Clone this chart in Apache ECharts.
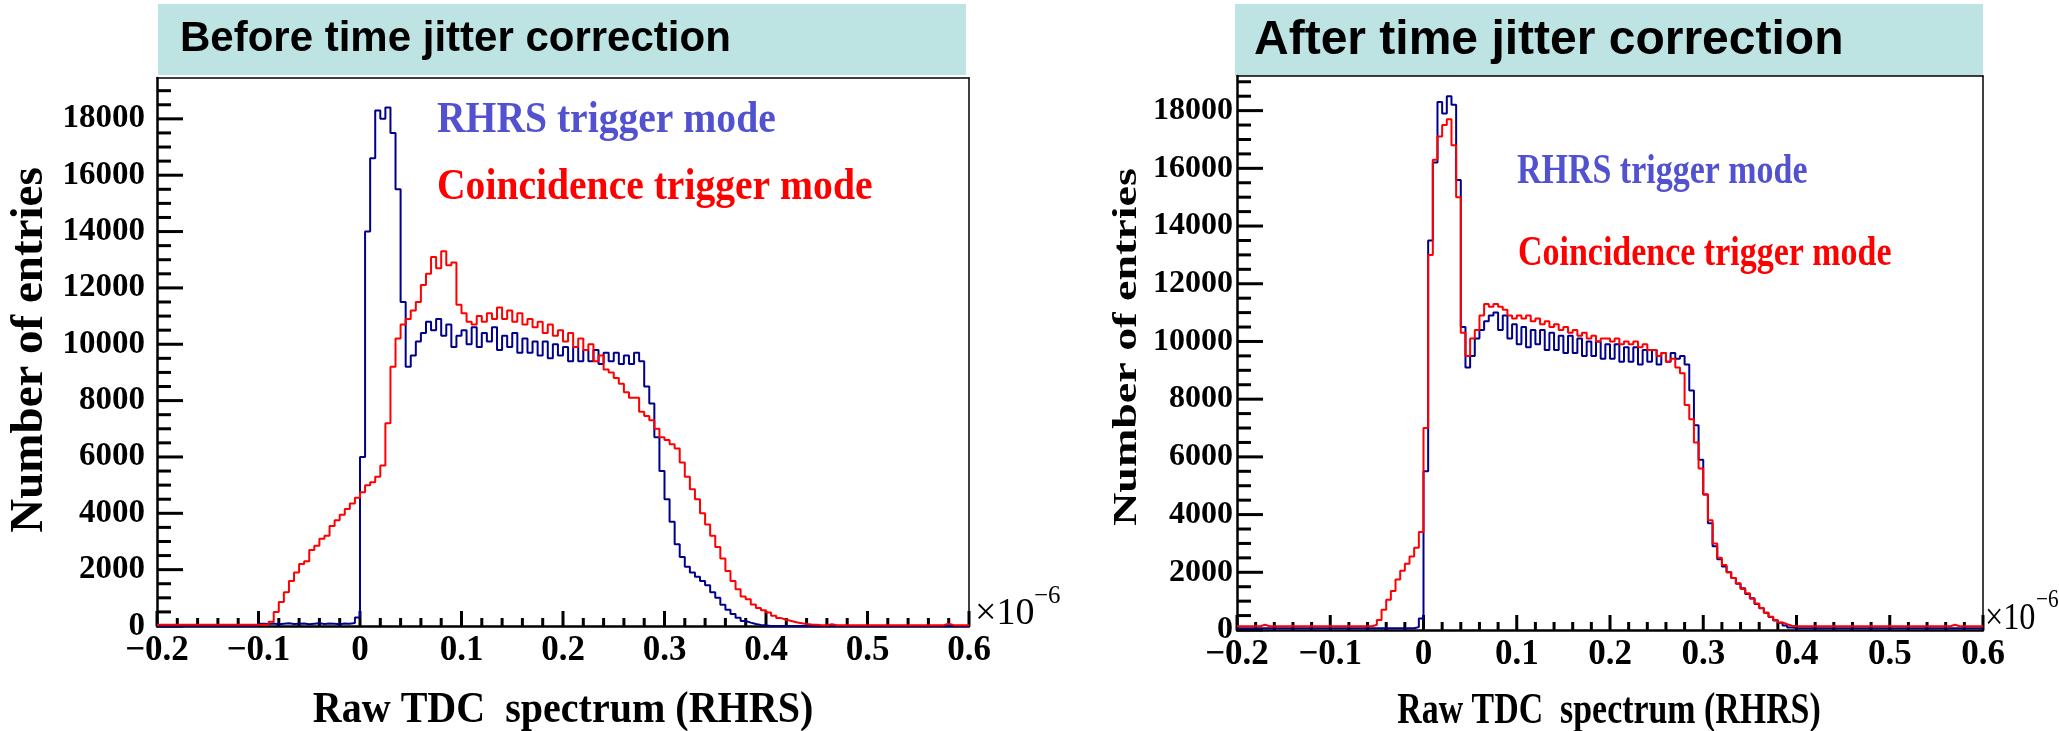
<!DOCTYPE html>
<html>
<head>
<meta charset="utf-8">
<script src="https://cdn.jsdelivr.net/npm/echarts@6/dist/echarts.min.js"></script>
<style>
html, body { margin: 0; padding: 0; background: #fff; }
#main { width: 2059px; height: 731px; }
</style>
</head>
<body>
<div id="main"></div>
<script>
// histogram binning (x in units of 1e-6)
var binStart = -0.2;
var binWidth = 0.005;

var panelTitles = ['Before time jitter correction', 'After time jitter correction'];
var seriesNames = ['RHRS trigger mode', 'Coincidence trigger mode'];
var xAxisTitle = 'Raw TDC  spectrum (RHRS)';
var yAxisTitle = 'Number of entries';

// tick marks (ROOT style frame)
var xMajorTicks = [-0.2, -0.1, 0, 0.1, 0.2, 0.3, 0.4, 0.5, 0.6];
var yMajorTicks = [0, 2000, 4000, 6000, 8000, 10000, 12000, 14000, 16000, 18000];

// before correction, RHRS trigger mode
var beforeRhrs = [
	0,0,0,0,0,0,0,0,0,0, 0,0,0,0,0,0,0,0,0,0,
	80,70,90,60,80,100,70,80,90,60, 80,100,70,90,80,60,90,80,110,300,
	6000,14000,16600,18300,18000,18400,17500,15500,11500,9200, 9600,10100,10400,10800,10500,10900,10300,10700,9900,10300,
	10500,10000,10600,9900,10400,10100,10600,9800,10300,9900, 10400,9700,10200,9700,10100,9600,10100,9500,10000,9600,
	9900,9400,9900,9400,9800,9400,9800,9300,9700,9400, 9700,9300,9600,9300,9700,9400,8500,7900,6700,5500,
	4500,3700,2900,2450,2100,1900,1750,1600,1450,1200, 1000,750,580,430,290,180,120,70,40,20,
	0,0,0,0,0,0,0,0,0,0, 0,0,0,0,0,0,0,0,0,0,
	0,0,0,0,0,0,0,0,0,0, 0,0,0,0,0,0,0,0,0,0
];
// before correction, coincidence trigger mode
var beforeCoinc = [
	40,40,40,40,40,40,40,40,40,40, 40,40,40,40,40,40,40,40,40,40,
	40,40,150,500,850,1200,1600,1900,2200,2300, 2700,2850,3100,3200,3550,3750,3950,4150,4350,4550,
	4750,5000,5100,5300,5700,7200,9200,10200,10700,10900, 11200,11500,12100,12500,13100,12700,13300,12800,12900,11400,
	11100,10800,10700,11000,10800,11100,10900,11300,10900,11200, 10800,11100,10700,10900,10600,10800,10400,10700,10300,10500,
	10100,10400,9900,10200,9800,10000,9400,9600,9100,9000, 8800,8600,8300,8100,8100,7600,7450,7300,7000,6700,
	6600,6450,6300,5800,5300,4850,4500,4000,3600,3200, 2800,2400,1950,1600,1300,1050,950,760,640,560,
	480,360,280,220,180,130,100,70,50,40, 30,30,60,30,30,30,30,30,30,30,
	30,30,30,30,30,30,30,30,30,30, 30,30,30,30,30,80,30,30,30,30
];
// after correction, RHRS trigger mode
var afterRhrs = [
	60,60,60,60,60,60,60,60,60,60, 60,60,60,60,60,60,60,60,60,60,
	60,60,60,60,60,60,60,60,60,60, 60,60,60,60,60,60,60,60,100,400,
	5500,13500,16200,18300,17900,18500,18200,15600,10500,9100, 9500,10100,10400,10700,10900,11000,10400,10900,10100,10600,
	9900,10500,9800,10400,9900,10400,9700,10300,9700,10200, 9600,10200,9600,10100,9500,10000,9500,10000,9400,9900,
	9400,9900,9300,9800,9300,9800,9200,9700,9300,9700, 9200,9600,9300,9600,9400,9500,9200,8300,7100,5900,
	4700,3700,2900,2450,2200,2000,1800,1600,1450,1250, 1100,900,750,600,450,330,250,160,90,70,
	60,60,60,60,60,60,60,60,60,60, 60,60,60,60,60,60,60,60,60,60,
	60,60,60,60,60,60,60,60,60,60, 60,60,60,60,60,60,60,60,60,60
];
// after correction, coincidence trigger mode
var afterCoinc = [
	130,130,130,130,130,180,130,130,130,130, 130,130,130,130,130,130,130,130,130,130,
	130,130,130,130,130,130,130,130,130,180, 350,700,1050,1350,1750,2050,2300,2550,2850,3400,
	7000,13000,16300,17100,17500,17700,16800,15000,10300,9500, 10100,10400,10900,11300,11200,11300,11200,11100,10900,10800,
	10900,10800,10900,10700,10800,10600,10700,10500,10600,10400, 10500,10300,10400,10200,10300,10100,10200,10000,10100,10100,
	10000,10100,9900,10000,9900,10000,9800,9900,9700,9700, 9500,9600,9300,9400,9100,8900,7800,7300,6500,5600,
	4700,3800,3000,2500,2250,2000,1800,1620,1420,1270, 1080,920,760,600,460,350,260,200,150,130,
	130,130,130,130,130,130,130,130,130,130, 130,130,130,130,130,130,130,130,130,130,
	130,130,130,130,130,130,130,130,130,130, 130,130,130,180,130,130,130,130,130,130
];

var serif = '"Liberation Serif", "Times New Roman", serif';
var sans = '"Liberation Sans", Arial, sans-serif';
var blue = '#00008c';
var red = '#ff0000';

function toSteps(vals) {
	var pts = [];
	for (var i = 0; i < vals.length; i++) {
		pts.push([+(binStart + i * binWidth).toFixed(4), vals[i]]);
	}
	pts.push([+(binStart + vals.length * binWidth).toFixed(4), vals[vals.length - 1]]);
	return pts;
}

function xLabel(v) {
	var r = Math.round(v * 10) / 10;
	if (r === 0) return '0';
	return String(r).replace('-', '\u2212');
}
function yLabel(v) {
	return String(Math.round(v));
}

// tick list: [value, kind] kind 0 x major, 1 x minor, 2 y major, 3 y minor
function tickItems(yMax) {
	var items = [];
	var i, v;
	for (i = 0; i < xMajorTicks.length; i++) {
		items.push([xMajorTicks[i], 0]);
		if (i < xMajorTicks.length - 1) {
			for (var k = 1; k < 5; k++) {
				items.push([+(xMajorTicks[i] + k * 0.02).toFixed(3), 1]);
			}
		}
	}
	for (i = 0; i < yMajorTicks.length; i++) {
		items.push([yMajorTicks[i], 2]);
		for (v = yMajorTicks[i] + 500; v < yMajorTicks[i] + 2000 && v < yMax; v += 500) {
			items.push([v, 3]);
		}
	}
	return items;
}
function tickSeries(gi, yMax) {
	return {
		type : 'custom', xAxisIndex : gi, yAxisIndex : gi, silent : true, animation : false, z : 3,
		renderItem : function(params, api) {
			var v = api.value(0), kind = api.value(1), p, len;
			if (kind < 2) {
				p = api.coord([v, 0]);
				len = kind === 0 ? 15 : 8;
				return { type : 'line', shape : { x1 : p[0], y1 : p[1], x2 : p[0], y2 : p[1] - len }, style : { stroke : '#000', lineWidth : 3 } };
			}
			p = api.coord([-0.2, v]);
			len = kind === 2 ? 26 : 14;
			return { type : 'line', shape : { x1 : p[0], y1 : p[1], x2 : p[0] + len, y2 : p[1] }, style : { stroke : '#000', lineWidth : 3 } };
		},
		data : tickItems(yMax)
	};
}

function makeX(gi) {
	return {
		type : 'value', gridIndex : gi, min : -0.2, max : 0.6, interval : 0.1,
		axisLine : { show : true, lineStyle : { color : '#000', width : 2.5 } },
		axisTick : { show : false },
		axisLabel : { color : '#000', fontFamily : serif, fontWeight : 'bold', fontSize : 35, margin : 7, formatter : xLabel },
		splitLine : { show : false }
	};
}
// hidden x axis whose zero is the left edge, so the y axes sit there
function makeXAnchor(gi) {
	return { type : 'value', gridIndex : gi, min : 0, max : 1, show : false };
}
function makeXFrame(gi) {
	return {
		type : 'value', gridIndex : gi, min : 0, max : 1, position : 'top',
		axisLine : { show : true, onZero : false, lineStyle : { color : '#000', width : 1.5 } },
		axisTick : { show : false }, axisLabel : { show : false }, splitLine : { show : false }
	};
}
function makeY(gi, max, fs, gap, anchor) {
	return {
		type : 'value', gridIndex : gi, min : 0, max : max, interval : 2000, position : 'left',
		axisLine : { show : true, onZeroAxisIndex : anchor, lineStyle : { color : '#000', width : 2.5 } },
		axisTick : { show : false },
		axisLabel : { color : '#000', fontFamily : serif, fontWeight : 'bold', fontSize : fs, margin : gap, showMaxLabel : false, formatter : yLabel },
		splitLine : { show : false }
	};
}
function makeYFrame(gi) {
	return {
		type : 'value', gridIndex : gi, min : 0, max : 1, position : 'right',
		axisLine : { show : true, onZero : false, lineStyle : { color : '#000', width : 1.5 } },
		axisTick : { show : false }, axisLabel : { show : false }, splitLine : { show : false }
	};
}
function histSeries(name, vals, color, gi, yi) {
	return {
		name : name, type : 'line', step : 'end', symbol : 'none',
		xAxisIndex : gi, yAxisIndex : yi, animation : false,
		lineStyle : { color : color, width : 2 },
		data : toSteps(vals)
	};
}

var graphics = [
	// title boxes
	{ type : 'rect', shape : { x : 158, y : 4, width : 808, height : 71 }, style : { fill : '#bde3e2' } },
	{ type : 'rect', shape : { x : 1235, y : 4, width : 748, height : 72 }, style : { fill : '#bde3e2' } },
	{ type : 'text', x : 180, y : 39, style : { text : panelTitles[0], fill : '#000', fontFamily : sans, fontWeight : 'bold', fontSize : 42, align : 'left', verticalAlign : 'middle' } },
	{ type : 'text', x : 1254, y : 41, style : { text : panelTitles[1], fill : '#000', fontFamily : sans, fontWeight : 'bold', fontSize : 48, align : 'left', verticalAlign : 'middle' } },
	// legend texts
	{ type : 'text', x : 437, y : 120, scaleX : 0.88, style : { text : seriesNames[0], fill : '#5252d0', fontFamily : serif, fontWeight : 'bold', fontSize : 45, align : 'left', verticalAlign : 'middle' } },
	{ type : 'text', x : 437, y : 187, scaleX : 0.88, style : { text : seriesNames[1], fill : red, fontFamily : serif, fontWeight : 'bold', fontSize : 45, align : 'left', verticalAlign : 'middle' } },
	{ type : 'text', x : 1517, y : 172, scaleX : 0.79, style : { text : seriesNames[0], fill : '#5252d0', fontFamily : serif, fontWeight : 'bold', fontSize : 43, align : 'left', verticalAlign : 'middle' } },
	{ type : 'text', x : 1518, y : 254, scaleX : 0.79, style : { text : seriesNames[1], fill : red, fontFamily : serif, fontWeight : 'bold', fontSize : 43, align : 'left', verticalAlign : 'middle' } },
	// axis titles
	{ type : 'text', x : 30, y : 350, rotation : Math.PI / 2, style : { text : yAxisTitle, fill : '#000', fontFamily : serif, fontWeight : 'bold', fontSize : 47, align : 'center', verticalAlign : 'middle' } },
	{ type : 'text', x : 1127, y : 347, rotation : Math.PI / 2, scaleY : 0.74, style : { text : yAxisTitle, fill : '#000', fontFamily : serif, fontWeight : 'bold', fontSize : 46, align : 'center', verticalAlign : 'middle' } },
	{ type : 'text', x : 563, y : 711, scaleX : 0.91, style : { text : xAxisTitle, fill : '#000', fontFamily : serif, fontWeight : 'bold', fontSize : 44, align : 'center', verticalAlign : 'middle' } },
	{ type : 'text', x : 1609, y : 712, scaleX : 0.77, style : { text : xAxisTitle, fill : '#000', fontFamily : serif, fontWeight : 'bold', fontSize : 44, align : 'center', verticalAlign : 'middle' } },
	// x10^-6 multipliers
	{ type : 'text', x : 975, y : 614, style : { text : '\u00d710', fill : '#000', fontFamily : serif, fontSize : 38, align : 'left', verticalAlign : 'middle' } },
	{ type : 'text', x : 1034, y : 596, style : { text : '\u22126', fill : '#000', fontFamily : serif, fontSize : 25, align : 'left', verticalAlign : 'middle' } },
	{ type : 'text', x : 1985, y : 619, scaleX : 0.85, style : { text : '\u00d710', fill : '#000', fontFamily : serif, fontSize : 38, align : 'left', verticalAlign : 'middle' } },
	{ type : 'text', x : 2036, y : 600, scaleX : 0.85, style : { text : '\u22126', fill : '#000', fontFamily : serif, fontSize : 25, align : 'left', verticalAlign : 'middle' } }
];

var mychart = echarts.init(document.getElementById('main'));
var option = {
	backgroundColor : '#fff',
	animation : false,
	grid : [
		{ left : 157, top : 78, width : 812, height : 548, show : false },
		{ left : 1237, top : 76, width : 746, height : 554, show : false }
	],
	// 0,1 visible; 2,3 anchors for the y axes; 4,5 top frame lines
	xAxis : [ makeX(0), makeX(1), makeXAnchor(0), makeXAnchor(1), makeXFrame(0), makeXFrame(1) ],
	// 0,1 visible; 2,3 right frame lines
	yAxis : [ makeY(0, 19450, 33, 12, 2), makeY(1, 19200, 32, 4, 3), makeYFrame(0), makeYFrame(1) ],
	series : [
		histSeries(seriesNames[0], beforeRhrs, blue, 0, 0),
		histSeries(seriesNames[1], beforeCoinc, red, 0, 0),
		histSeries(seriesNames[0], afterRhrs, blue, 1, 1),
		histSeries(seriesNames[1], afterCoinc, red, 1, 1),
		tickSeries(0, 19450),
		tickSeries(1, 19200)
	],
	graphic : graphics
};
mychart.setOption(option);
</script>
</body>
</html>
